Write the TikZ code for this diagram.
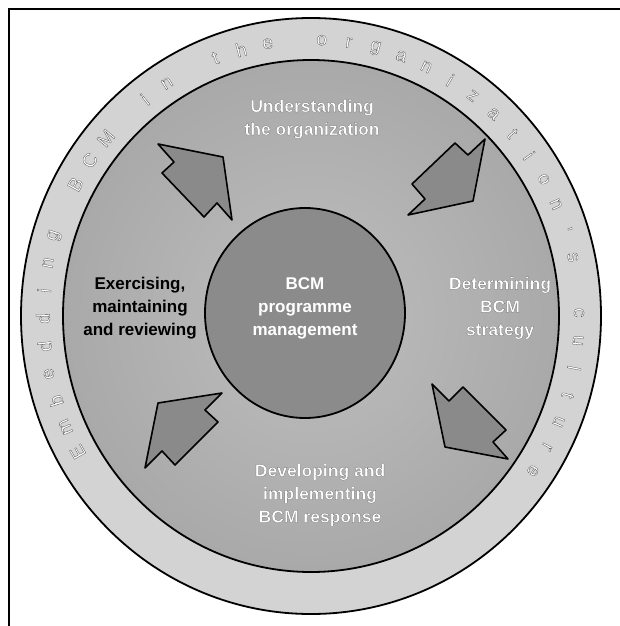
\documentclass[tikz,border=0pt]{standalone}
\usepackage{fontspec}
\setmainfont{Liberation Sans}
\newfontface\strokebold[FakeBold=1.0]{Liberation Sans Bold}
\newfontface\strokereg[FakeBold=1.5]{Liberation Sans}
\definecolor{ringc}{HTML}{D3D3D3}
\definecolor{midin}{HTML}{BEBEBE}
\definecolor{midout}{HTML}{A9A9A9}
\definecolor{corec}{HTML}{8B8B8B}
\definecolor{arrowc}{HTML}{8A8A8A}
\newcommand{\grstroke}{\special{pdf:code 0.36 G}}
\newcommand{\dkstroke}{\special{pdf:code 0.30 G}}
\tikzset{
  blockarrow/.style={fill=arrowc, draw=black, line width=1.6pt, line join=round},
  lbl/.style={align=center, text=white, font=\fontsize{17}{23}\selectfont\bfseries, inner sep=0pt},
  olbl/.style={align=center, text=white, font=\fontsize{17.5}{23}\selectfont\strokebold, inner sep=0pt},
  blacklbl/.style={align=center, text=black, font=\fontsize{17}{23}\selectfont\bfseries, inner sep=0pt},
  ringletter/.style={text=white, font=\fontsize{19}{19}\selectfont\strokereg, inner sep=0pt}
}
\begin{document}
\begin{tikzpicture}[x=1pt,y=1pt]
\useasboundingbox (0,0) rectangle (620,-626);
\fill[white] (0,0) rectangle (620,-626);
% frame
\draw[line width=1.2pt] (9,-626) -- (9,-9) -- (620,-9);
% outer ring
\filldraw[fill=ringc, draw=black, line width=1.8pt] (311,-316) ellipse [x radius=290, y radius=298];
% middle disk
\shadedraw[inner color=midin, outer color=midout, draw=black, line width=1.8pt] (311,-316) ellipse [x radius=248, y radius=256];
% core
\filldraw[fill=corec, draw=black, line width=1.8pt] (305,-313) ellipse [x radius=100, y radius=105];
% arrows
\filldraw[blockarrow] (158,-144) -- (223,-157) -- (232,-220) -- (217,-203) -- (204,-217) -- (162,-173) -- (174,-162) -- cycle;
\filldraw[blockarrow] (485,-139) -- (473,-201) -- (408,-215) -- (425,-199) -- (412,-184) -- (455,-143) -- (468,-155) -- cycle;
\filldraw[blockarrow] (432,-384) -- (449,-401) -- (463,-387) -- (506,-430) -- (493,-442) -- (508,-459) -- (445,-447) -- cycle;
\filldraw[blockarrow] (158,-403) -- (222,-393) -- (205,-410) -- (218,-422) -- (175,-465) -- (162,-451) -- (145,-468) -- cycle;
% labels
\node[olbl] (und) at (312,-119) {\grstroke Understanding\\\grstroke the organization};
\node[olbl] (det) at (500,-308) {\grstroke Determining\\\grstroke BCM\\\grstroke strategy};
\node[olbl] (dev) at (320,-495) {\grstroke Developing and\\\grstroke implementing\\\grstroke BCM response};
\node[blacklbl] (exe) at (140,-308) {Exercising,\\maintaining\\and reviewing};
\node[lbl] (bcm) at (305,-308) {BCM\\programme\\management};
% ring text
\foreach \c [count=\i from 0] in {E,m,b,e,d,d,i,n,g,{},B,C,M,{},i,n,{},t,h,e,{},o,r,g,a,n,i,z,a,t,i,o,n,',s,{},c,u,l,t,u,r,e}{
  \pgfmathsetmacro{\a}{209.5-\i*5.8}
  \node[ringletter, rotate=\a-90] (r\i) at ({311+268*cos(\a)},{-316+276*sin(\a)}) {\dkstroke\c};
}
\end{tikzpicture}
\end{document}
